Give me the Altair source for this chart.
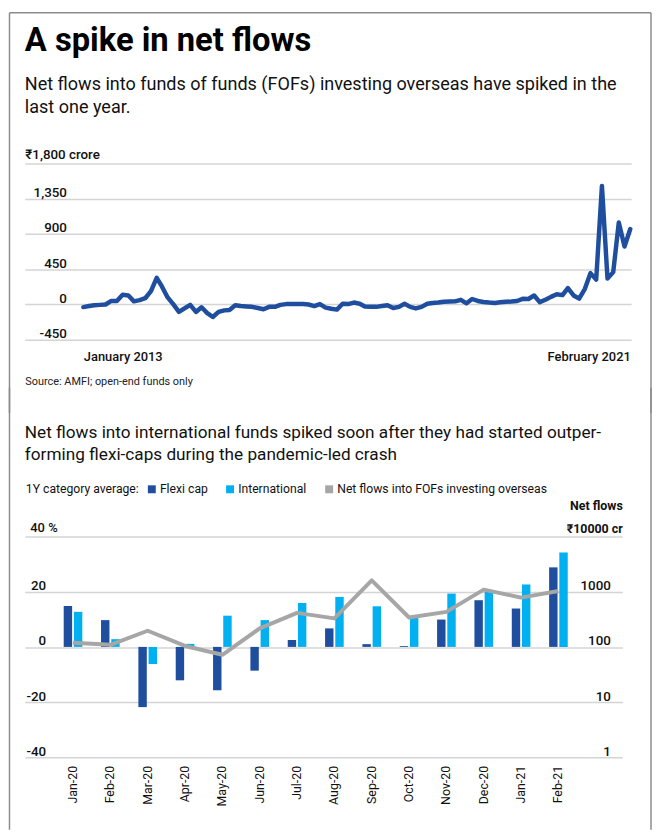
import altair as alt
import pandas as pd

FONT = "Roboto, 'Liberation Sans', sans-serif"
FRAME = "#8c8c8c"

# ---------------- top chart data (monthly, Jan 2013 .. Feb 2021), Rs crore
fof_flows = [-33, -20, -10, -5, 0, 45, 45, 125, 115, 40, 55, 80, 170, 340, 230, 90,
             5, -95, -50, -5, -95, -35, -110, -160, -95, -75, -70, -10, -20, -25,
             -30, -45, -60, -30, -30, -5, 5, 5, 5, 5, 0, -20, 5, -40, -55, -65,
             10, 5, 25, 10, -25, -30, -30, -20, -10, -45, -30, 10, -30, -50, -30,
             10, 20, 25, 35, 38, 40, 60, 15, 70, 45, 32, 25, 20, 28, 35, 38, 45,
             72, 70, 115, 30, 60, 97, 130, 120, 210, 115, 75, 200, 400, 317, 1513,
             330, 413, 1047, 740, 963]
top_y_ticks = [-450, 0, 450, 900, 1350, 1800]

# ---------------- bottom chart data
months_b = ["Jan-20", "Feb-20", "Mar-20", "Apr-20", "May-20", "Jun-20", "Jul-20",
            "Aug-20", "Sep-20", "Oct-20", "Nov-20", "Dec-20", "Jan-21", "Feb-21"]
flexi_cap = [14.8, 9.7, -21.8, -12.1, -15.7, -8.6, 2.5, 6.7, 1.0, 0.3, 9.9, 16.9, 13.9, 28.8]
international = [12.7, 2.8, -6.2, 1.1, 11.3, 9.7, 15.9, 18.1, 14.7, 10.7, 19.3, 19.9, 22.6, 34.2]
net_fof = [119, 109, 196, 104, 72, 216, 413, 328, 1596, 341, 431, 1087, 780, 1025]
series_names = ["Flexi cap", "International", "Net flows into FOFs investing overseas"]
series_colors = ["#1f4e9f", "#00b0f0", "#a6a6a6"]
left_ticks = [-40, -20, 0, 20, 40]
right_ticks = [1, 10, 100, 1000, 10000]

LBL = dict(labelFont=FONT, labelColor="#111")
TTL = dict(titleFont=FONT, titleColor="#111")


def frame_rule(x1, y1, x2=None, y2=None):
    """Decorative border line of the graphic (pixel placement)."""
    enc = dict(x=alt.value(x1), y=alt.value(y1))
    if x2 is not None:
        enc["x2"] = alt.value(x2)
    if y2 is not None:
        enc["y2"] = alt.value(y2)
    return alt.Chart(alt.Data(values=[{}])).mark_rule(
        color=FRAME, strokeWidth=1.5).encode(**enc)


# ---------------- top chart
top_df = pd.DataFrame({
    "month": pd.date_range("2013-01-01", periods=len(fof_flows), freq="MS"),
    "flow": fof_flows,
})

top_line = alt.Chart(top_df).mark_line(
    color="#1f4e9f", strokeWidth=4.5, strokeJoin="round", strokeCap="round"
).encode(
    x=alt.X(
        "month:T",
        scale=alt.Scale(domain=[alt.DateTime(year=2012, month=2, date=20),
                                alt.DateTime(year=2021, month=2, date=6)]),
        axis=alt.Axis(
            values=[alt.DateTime(year=2013, month=1, date=1),
                    alt.DateTime(year=2021, month=2, date=1)],
            labelExpr="timeFormat(datum.value, '%B %Y')",
            labelAlign={"condition": {"test": "year(datum.value) < 2015", "value": "left"},
                        "value": "right"},
            grid=False, domain=False, ticks=False, tickSize=0,
            labelPadding=11, labelFontSize=13, labelFontWeight=500, **LBL,
            title="Source: AMFI; open-end funds only",
            titleX=0, titleY=45, titleAlign="left", titleAnchor="start",
            titleBaseline="alphabetic", titleFontWeight="normal",
            titleFontSize=11, titleFont=FONT, titleColor="#222",
        ),
    ),
    y=alt.Y(
        "flow:Q",
        scale=alt.Scale(domain=[-450, 1800], nice=False, zero=False),
        axis=alt.Axis(
            values=top_y_ticks,
            labelExpr="datum.value == 1800 ? '' : replace(format(datum.value, ','), '\u2212', '-')",
            grid=True, gridColor="#d4d4d4", gridWidth=1.5,
            domain=False, ticks=False, tickSize=0,
            labelPadding=-42, labelAlign="right", labelBaseline="alphabetic",
            labelOffset=-2, labelFontSize=13.5, labelFontWeight=500, **LBL,
            title="\u20b91,800 crore", titleAngle=0, titleAlign="left",
            titleBaseline="alphabetic", titleX=0, titleY=-5,
            titleFontSize=13.5, titleFontWeight=500, **TTL,
        ),
    ),
)

top = alt.layer(
    top_line,
    frame_rule(-15.5, -152, x2=632),          # top edge
    frame_rule(-15.5, -152, y2=252),          # left edge
    frame_rule(632, -152, y2=252),            # right edge
).properties(
    width=612, height=178,
    title=alt.TitleParams(
        text="A spike in net flows",
        subtitle=["Net flows into funds of funds (FOFs) investing overseas have spiked in the",
                  "last one year."],
        anchor="start", frame="group", font=FONT, fontSize=33, fontWeight="bold",
        color="#000", subtitleFont=FONT, subtitleFontSize=18.2, subtitleColor="#111",
        subtitleLineHeight=23, subtitlePadding=19, offset=-105,
    ),
)

# ---------------- bottom chart
bars_df = pd.DataFrame({
    "month": months_b * 2,
    "series": ["Flexi cap"] * len(months_b) + ["International"] * len(months_b),
    "ret": flexi_cap + international,
})
line_df = pd.DataFrame({"month": months_b, "net": net_fof})

x_b = alt.X(
    "month:N", sort=months_b,
    scale=alt.Scale(paddingInner=0, paddingOuter=1, align=0.395),
    axis=alt.Axis(
        labelAngle=-90, grid=False, domain=False, ticks=False, tickSize=0,
        labelPadding=8, labelFontSize=12.5, **LBL, title=None,
    ),
)

bars = alt.Chart(bars_df).mark_bar().encode(
    x=x_b,
    xOffset=alt.XOffset("series:N", sort=series_names[:2],
                        scale=alt.Scale(paddingInner=0.175, paddingOuter=0.917)),
    y=alt.Y(
        "ret:Q",
        scale=alt.Scale(domain=[-40, 40], nice=False),
        axis=alt.Axis(
            values=left_ticks,
            labelExpr="datum.value == 40 ? '' : replace(format(datum.value, 'd'), '\u2212', '-')",
            grid=True, gridColor="#d4d4d4", gridWidth=1.5,
            domain=False, ticks=False, tickSize=0,
            labelPadding=-21, labelAlign="right", labelBaseline="alphabetic",
            labelOffset=-2, labelFontSize=13.5, labelFontWeight=500, **LBL,
            title="40 %", titleAngle=0, titleAlign="left",
            titleBaseline="alphabetic", titleX=5, titleY=-5,
            titleFontSize=13, titleFontWeight=500, **TTL,
        ),
    ),
    color=alt.Color(
        "series:N",
        scale=alt.Scale(domain=series_names, range=series_colors),
        legend=alt.Legend(
            orient="none", legendX=1, legendY=-54, direction="horizontal",
            title="1Y category average:", titleOrient="left", titleFontSize=12.3,
            titleFontWeight="normal", titleFont=FONT, titleColor="#111", titlePadding=6,
            labelFontSize=12.3, labelFont=FONT, labelColor="#111", labelOffset=2,
            labelLimit=0, symbolType="square", symbolSize=64, symbolStrokeWidth=0,
            columnPadding=16,
        ),
    ),
)

net_line = alt.Chart(line_df).mark_line(
    color="#a6a6a6", strokeWidth=4, strokeJoin="round"
).encode(
    x=x_b,
    y=alt.Y(
        "net:Q",
        scale=alt.Scale(type="log", domain=[1, 10000], nice=False),
        axis=alt.Axis(
            orient="right", values=right_ticks,
            labelExpr="datum.value == 10000 ? '' : format(datum.value, 'd')",
            grid=False, domain=False, ticks=False, tickSize=0,
            labelPadding=-12, labelAlign="right", labelBaseline="alphabetic",
            labelOffset=-2, labelFontSize=13.5, labelFontWeight=500, **LBL,
            title=["Net flows", "\u20b910000 cr"], titleAngle=0, titleAlign="right",
            titleBaseline="alphabetic", titleX=0, titleY=-27, titleLineHeight=23,
            titleFontSize=12.5, titleFontWeight="bold", **TTL,
        ),
    ),
)

bottom = alt.layer(
    bars, net_line,
    frame_rule(-15.5, -150, y2=296),          # left edge
    frame_rule(632, -150, y2=296),            # right edge
).resolve_scale(y="independent").properties(
    width=603, height=223,
    title=alt.TitleParams(
        text=["Net flows into international funds spiked soon after they had started outper-",
              "forming flexi-caps during the pandemic-led crash"],
        anchor="start", frame="group", font=FONT, fontSize=17.35, fontWeight="normal",
        color="#111", lineHeight=22, offset=-77,
    ),
)

chart = alt.vconcat(top, bottom, spacing=-27.5).resolve_legend(color="independent").properties(
    padding={"left": 0, "top": 0, "right": 0, "bottom": 0},
    background="white",
).configure(font=FONT).configure_view(stroke=None)

chart.save("out.html", embed_options={"renderer": "svg", "actions": False})
